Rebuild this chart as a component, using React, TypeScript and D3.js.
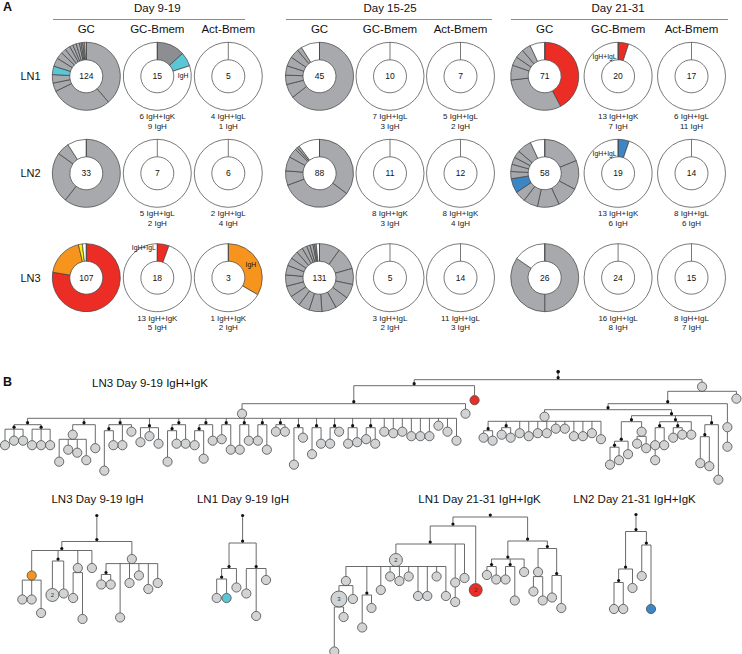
import React from 'react';
import * as d3 from 'd3';

const FONT = 'Arial, "Liberation Sans", Helvetica, sans-serif';

// ================= Panel A data =================
const timepoints = ['Day 9-19', 'Day 15-25', 'Day 21-31'];
const populations = ['GC', 'GC-Bmem', 'Act-Bmem'];
const lymphNodes = ['LN1', 'LN2', 'LN3'];

// total cells [timepoint][lymph node][population]
const cellCounts = [
  [[124, 15, 5], [33, 7, 6], [107, 18, 3]],
  [[45, 10, 7], [88, 11, 12], [131, 5, 14]],
  [[71, 20, 17], [58, 19, 14], [26, 24, 15]],
];

type Seg = [number, string];
// clone segments clockwise from 12 o'clock: [cells, clone category]; 'w' = unexpanded
const gcD9LN1: Seg[] = [[48, 'g'], [36, 'g'], [5, 'g'], [5, 'g'], [5, 'c'], [5, 'g'], [4, 'g'], [3, 'g'], [3, 'g'], [2, 'g'], [2, 'g'], [2, 'g'], [1, 'g'], [1, 'g'], [1, 'g'], [1, 'w']];
const gcD9LN2: Seg[] = [[20, 'g'], [8, 'g'], [2, 'g'], [3, 'w']];
const gcD9LN3: Seg[] = [[83, 'r'], [20, 'o'], [2, 'y'], [2, 'w']];
const gcD15LN1: Seg[] = [[29, 'g'], [3, 'g'], [2, 'g'], [2, 'g'], [2, 'g'], [2, 'g'], [1, 'g'], [4, 'w']];
const gcD15LN2: Seg[] = [[31, 'g'], [30, 'g'], [6, 'g'], [6, 'g'], [4, 'g'], [1, 'g'], [1, 'g'], [9, 'w']];
const gcD15LN3: Seg[] = [[13, 'g'], [14, 'g'], [10, 'g'], [9, 'g'], [9, 'g'], [9, 'g'], [8, 'g'], [7, 'g'], [7, 'g'], [7, 'g'], [7, 'g'], [6, 'g'], [5, 'g'], [5, 'g'], [4, 'g'], [3, 'g'], [2, 'g'], [2, 'g'], [1, 'g'], [1, 'g'], [2, 'w']];
const gcD21LN1: Seg[] = [[30, 'r'], [22, 'g'], [5, 'g'], [3, 'g'], [3, 'g'], [3, 'g'], [5, 'w']];
const gcD21LN2: Seg[] = [[11, 'g'], [8, 'g'], [6, 'g'], [6, 'g'], [4, 'g'], [3, 'g'], [4, 'b'], [2, 'g'], [2, 'g'], [2, 'g'], [2, 'g'], [4, 'g'], [4, 'w']];
const gcD21LN3: Seg[] = [[13, 'g'], [9, 'g'], [4, 'w']];
const bmemD9LN1: Seg[] = [[2, 'd'], [1, 'c'], [12, 'w']];
const bmemD9LN3: Seg[] = [[1, 'r'], [17, 'w']];
const actD9LN3: Seg[] = [[1, 'o'], [2, 'w']];
const bmemD21LN1: Seg[] = [[1, 'r'], [19, 'w']];
const bmemD21LN2: Seg[] = [[1, 'b'], [18, 'w']];

const donutSegments: (Seg[] | null)[][][] = [
  [[gcD9LN1, bmemD9LN1, null], [gcD9LN2, null, null], [gcD9LN3, bmemD9LN3, actD9LN3]],
  [[gcD15LN1, null, null], [gcD15LN2, null, null], [gcD15LN3, null, null]],
  [[gcD21LN1, bmemD21LN1, null], [gcD21LN2, bmemD21LN2, null], [gcD21LN3, null, null]],
];

// Bmem light chain info [tp][ln][GC-Bmem, Act-Bmem]
const pairedCounts = [
  [[6, 4], [5, 2], [13, 1]],
  [[7, 5], [8, 8], [3, 11]],
  [[13, 6], [13, 8], [16, 8]],
];
const lightChain = [
  [['K', 'L'], ['L', 'L'], ['K', 'K']],
  [['L', 'L'], ['K', 'K'], ['L', 'L']],
  [['K', 'L'], ['K', 'L'], ['L', 'L']],
];
const heavyOnlyCounts = [
  [[9, 1], [2, 4], [5, 2]],
  [[3, 2], [3, 4], [2, 3]],
  [[7, 11], [6, 6], [8, 7]],
];

const ringLabelText = ['IgH', 'IgH+IgL', 'IgH', 'IgH+IgL', 'IgH+IgL'];
const ringLabelCell = [[0, 0, 1], [0, 2, 1], [0, 2, 2], [2, 0, 1], [2, 1, 1]];

// ================= Panel B data (Newick, branch lengths in mutations) =================
const treeTitles = ['LN3 Day 9-19 IgH+IgK', 'LN3 Day 9-19 IgH', 'LN1 Day 9-19 IgH', 'LN1 Day 21-31 IgH+IgK', 'LN2 Day 21-31 IgH+IgK'];

const bigG1 =
  '(((g:12,g:9,g:9):3,(g:12,g:12,g:12):3):6,((g:18,g:10,g:12,g:17)g:8,g:17):6,((g:28,g:11):4,g:15,g:6):6,' +
  '(g:11,g:7,g:12):8,((g:22,g:10):4,g:14):6,((g:11,g:20):4,g:12):6,(g:11,g:18):6,(g:18,g:12):6,(g:12,g:18):6,' +
  '(g:6,g:6):6,(g:26,g:8):8,(g:19,g:12):8,(g:12,g:4):8,(g:12,g:11):8,(g:9,g:12):8,' +
  'g:12,g:13,g:12,g:15,g:15,g:15,g:8,g:12,g:18)g:8';
const bigC1 = '((g:6,g:8):8,(g:6,g:8):6,g:11,g:13,g:11,g:11,g:8,g:8,g:13,g:13,g:11,g:15)g:6';
const bigD =
  '((((g:13,g:10):4,g:10):13,(g:8,g:11)g:8):4,(((g:10)g:13,g:13):4,(g:8,g:6):4,g:10):4,((g:19,g:21):8,g:38):6):4';
const treeLN3D9HK = '(((((' + bigG1 + ',g:8):12,r:11):4,(((' + bigC1 + ',' + bigD + '):4,(g:13)g:17):10,g:8)g:6):4)';
const treeLN3D9H = '((((g:16,g:16,g:25)o:18,(g2:24,g:23):7,(g:20,g:34)g:13,g:13):6,((g:8,g:8):9,g:39,g:16,g:11,g:20,g:16)g:13):16)';
const treeLN1D9H = '((((g:14,c:14):7,g:14):17,(g:18,g:33,g:9):17):17)';
const treeLN1D21HK =
  '((((((g:35,g:12)g3:12,g:12)g:14,(g:23,g:10):22,g:20,g:11,g:14,g:11,g:24,g:24,g:11,g:24)g2:12,(g:13)g:27,g:24):12,r2:44):6,' +
  '(((g:7,g:10):5,(g:10,g:24):5,g:10):12,((g:13,g:19)g:17,(g:16,g:23):18):5):16)';
const treeLN2D21HK = '((((g:19,g:19):9,g:14):25,(g:22,b:44):9):10)';
const treeData = [treeLN3D9HK, treeLN3D9H, treeLN1D9H, treeLN1D21HK, treeLN2D21HK];

// ================= Layout / styles =================
const COLORS: Record<string, string> = {
  g: '#a7a9ac', d: '#8c8e91', c: '#5bc6d6', r: '#ec2d25', o: '#f7941d', y: '#fff200', b: '#3d86c6', w: '#ffffff',
};
const NODE_FILL: Record<string, string> = { g: '#d2d3d5', r: '#ec2d25', o: '#f7941d', c: '#5bc6d6', b: '#3d86c6' };
const groupX0 = [86.3, 319.5, 544.7];
const colStep = [71, 70.5, 73.4];
const rowY = [76.3, 173.3, 277.7];
const headerLines = [[53, 245], [286, 492], [511, 728]];
const R_OUT = 34;
const R_IN = 16.5;
const ringLabelPos = [[25.8, 2, 'middle'], [-1.5, -27.5, 'end'], [22.5, -10.5, 'middle'], [-1.5, -17.6, 'end'], [-1.5, -17.8, 'end']];

const treeLayouts = [
  { x0: 5, y0: 371.7, spacing: 9.03 },
  { x0: 22.3, y0: 515.5, spacing: 9.4 },
  { x0: 216.7, y0: 515.5, spacing: 9.87 },
  { x0: 334.3, y0: 515, spacing: 9.3 },
  { x0: 614, y0: 514.5, spacing: 9.25 },
];
const titlePos: [number, number, string][] = [[92, 386.5, 'start'], [97.5, 503.3, 'middle'], [243, 503.3, 'middle'], [479.5, 503.3, 'middle'], [634.5, 503.3, 'middle']];
const PX_PER_MUT = 1.5;
const R_NODE = 4.6;

type TNode = { label: string; len: number; children: TNode[] };
function parseNewick(str: string): TNode {
  const s = str.replace(/\s+/g, '');
  let i = 0;
  function node(): TNode {
    const n: TNode = { label: '', len: 0, children: [] };
    if (s[i] === '(') {
      i++;
      n.children.push(node());
      while (s[i] === ',') { i++; n.children.push(node()); }
      i++;
    }
    let lab = '';
    while (i < s.length && !',():'.includes(s[i])) lab += s[i++];
    n.label = lab;
    if (s[i] === ':') {
      i++;
      let num = '';
      while (i < s.length && /[0-9.]/.test(s[i])) num += s[i++];
      n.len = +num;
    }
    return n;
  }
  return node();
}

function nodeRadius(label: string): number {
  if (!label) return 0;
  const n = parseInt(label.slice(1), 10) || 1;
  return R_NODE * Math.sqrt(n);
}

function layoutTree(newick: string, x0: number, y0: number, spacing: number) {
  const root: any = d3.hierarchy<TNode>(parseNewick(newick), (d) => (d.children.length ? d.children : null));
  root.eachBefore((n: any) => { n.cum = n.parent ? n.parent.cum + n.data.len : 0; });
  const yScale = d3.scaleLinear().domain([0, 1]).range([y0, y0 + PX_PER_MUT]);
  let x = x0;
  let prevEx: number | null = null;
  root.leaves().forEach((l: any) => {
    const ex = Math.max(0, nodeRadius(l.data.label) - R_NODE);
    if (prevEx !== null) x += spacing + prevEx + ex;
    l.x = x;
    prevEx = ex;
  });
  root.eachAfter((n: any) => {
    if (n.children) n.x = (n.children[0].x + n.children[n.children.length - 1].x) / 2;
    n.y = yScale(n.cum);
  });
  return root;
}

function Tree({ idx }: { idx: number }) {
  const L = treeLayouts[idx];
  const root = layoutTree(treeData[idx], L.x0, L.y0, L.spacing);
  const lines: JSX.Element[] = [];
  const dots: JSX.Element[] = [];
  const circles: JSX.Element[] = [];
  let k = 0;
  root.each((n: any) => {
    const r = nodeRadius(n.data.label);
    if (n.children) {
      const barY = r ? n.y + r : n.y + 2;
      if (!r) lines.push(<line key={k++} x1={n.x} x2={n.x} y1={n.y} y2={barY} />);
      if (n.children.length > 1) {
        lines.push(<line key={k++} x1={n.children[0].x} x2={n.children[n.children.length - 1].x} y1={barY} y2={barY} />);
      }
      n.children.forEach((c: any) => {
        const cr = nodeRadius(c.data.label);
        lines.push(<line key={k++} x1={c.x} x2={c.x} y1={barY} y2={c.y - cr} />);
      });
    }
    if (!r) {
      dots.push(<circle key={k++} cx={n.x} cy={n.y} r={1.6} fill="#111" />);
    } else {
      const cat = n.data.label[0];
      const num = n.data.label.slice(1);
      circles.push(
        <g key={k++}>
          <circle cx={n.x} cy={n.y} r={r} fill={NODE_FILL[cat]} stroke="#4a4a4a" strokeWidth={0.8} />
          {num && (
            <text x={n.x} y={n.y + 2} textAnchor="middle" fontSize={6} fill="#333">{num}</text>
          )}
        </g>
      );
    }
  });
  const [tx, ty, ta] = titlePos[idx];
  return (
    <g>
      <text x={tx} y={ty} textAnchor={ta as any} fontSize={11.5} fill="#111">{treeTitles[idx]}</text>
      <g stroke="#5a5a5a" strokeWidth={0.9}>{lines}</g>
      {dots}
      {circles}
    </g>
  );
}

export default function App() {
  const pie = d3.pie<Seg>().value((d) => d[0]).sort(null);
  const arcGen = d3.arc<d3.PieArcDatum<Seg>>().innerRadius(R_IN).outerRadius(R_OUT);

  const donuts: JSX.Element[] = [];
  timepoints.forEach((tp, ti) => {
    lymphNodes.forEach((ln, li) => {
      populations.forEach((pop, pi) => {
        const total = cellCounts[ti][li][pi];
        const segs = donutSegments[ti][li][pi] || ([[total, 'w']] as Seg[]);
        const cx = groupX0[ti] + pi * colStep[ti];
        const cy = rowY[li];
        const arcs = pie(segs);
        donuts.push(
          <g key={`${ti}-${li}-${pi}`} transform={`translate(${cx},${cy})`}>
            {arcs.map((a, i) => (
              <path key={i} d={arcGen(a) || ''} fill={COLORS[a.data[1]]} stroke="#3f3f3f" strokeWidth={0.7} />
            ))}
            <line x1={0} x2={0} y1={-R_IN} y2={-R_OUT} stroke="#3f3f3f" strokeWidth={0.7} />
            <text x={0} y={3} textAnchor="middle" fontSize={8.5} fill="#111">{total}</text>
            {pi > 0 && (
              <g fontSize={8} fill="#222" textAnchor="middle">
                <text x={0} y={43}>{`${pairedCounts[ti][li][pi - 1]} IgH+Ig${lightChain[ti][li][pi - 1]}`}</text>
                <text x={0} y={52.7}>{`${heavyOnlyCounts[ti][li][pi - 1]} IgH`}</text>
              </g>
            )}
          </g>
        );
      });
    });
  });

  const ringLabels = ringLabelText.map((t, i) => {
    const [ti, li, pi] = ringLabelCell[i];
    const [dx, dy, anchor] = ringLabelPos[i] as [number, number, string];
    const cx = groupX0[ti] + pi * colStep[ti];
    return (
      <text key={i} x={cx + dx} y={rowY[li] + dy} textAnchor={anchor as any} fontSize={6.8} fill="#111">{t}</text>
    );
  });

  return (
    <svg width={742} height={654} style={{ position: 'absolute', left: 0, top: 0, background: '#fff' }} fontFamily={FONT}>
      <rect width={742} height={654} fill="#fff" />
      <text x={3} y={10.5} fontSize={12.5} fontWeight="bold" fill="#111">A</text>
      <text x={3} y={386} fontSize={12.5} fontWeight="bold" fill="#111">B</text>
      {timepoints.map((tp, ti) => (
        <g key={tp}>
          <text x={groupX0[ti] + colStep[ti]} y={11.7} textAnchor="middle" fontSize={11.5} fill="#111">{tp}</text>
          <line x1={headerLines[ti][0]} x2={headerLines[ti][1]} y1={19.5} y2={19.5} stroke="#8a8a8a" strokeWidth={1} />
          {populations.map((p, pi) => (
            <text key={p} x={groupX0[ti] + pi * colStep[ti]} y={32.7} textAnchor="middle" fontSize={11.5} fill="#111">{p}</text>
          ))}
        </g>
      ))}
      {lymphNodes.map((ln, li) => (
        <text key={ln} x={20.5} y={rowY[li] + 3.8} fontSize={11} fill="#111">{ln}</text>
      ))}
      {donuts}
      {ringLabels}
      {treeData.map((_, i) => <Tree key={i} idx={i} />)}
    </svg>
  );
}
